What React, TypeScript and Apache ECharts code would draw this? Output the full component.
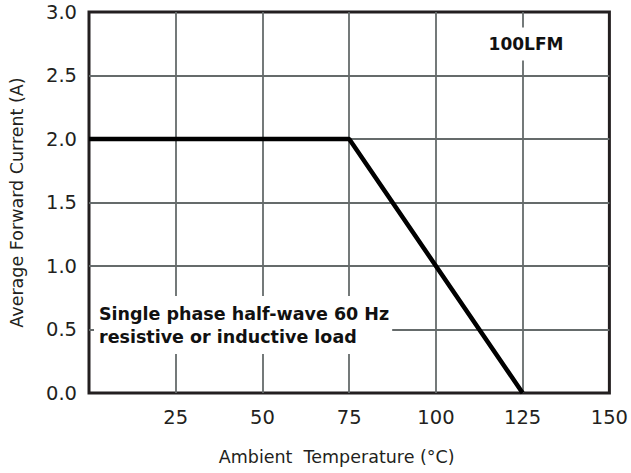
import React, { useEffect, useRef } from 'react';
import * as echarts from 'echarts';

// Derating curve data
const temperatureC = [0, 75, 125];
const currentA = [2.0, 2.0, 0.0];

// Axis ranges / ticks
const xMin = 0;
const xMax = 150;
const xStep = 25;
const yMin = 0;
const yMax = 3;
const yStep = 0.5;

const xTitle = 'Ambient  Temperature (°C)';
const yTitle = 'Average Forward Current (A)';
const noteTopRight = '100LFM';
const noteLoad = ['Single phase half-wave 60 Hz', 'resistive or inductive load'];

const FONT = '"DejaVu Sans", "Liberation Sans", sans-serif';

export default function App() {
  const ref = useRef<HTMLDivElement>(null);
  useEffect(() => {
    if (!ref.current) return;
    const chart = echarts.init(ref.current, undefined, { renderer: 'svg' });
    const points = temperatureC.map((t, i) => [t, currentA[i]]);
    chart.setOption({
      animation: false,
      backgroundColor: '#ffffff',
      grid: {
        left: 86,
        right: 17,
        top: 12,
        bottom: 80,
        show: true,
        borderColor: '#231f20',
        borderWidth: 3,
        backgroundColor: 'transparent',
      },
      xAxis: {
        type: 'value',
        min: xMin,
        max: xMax,
        interval: xStep,
        name: xTitle,
        nameLocation: 'middle',
        nameGap: 55,
        nameTextStyle: {
          fontFamily: FONT,
          fontSize: 17.5,
          color: '#231f20',
          padding: [0, 25, 0, 0],
        },
        axisLine: { show: false },
        axisTick: { show: false },
        axisLabel: {
          showMinLabel: false,
          margin: 14,
          fontFamily: FONT,
          fontSize: 19.5,
          color: '#231f20',
        },
        splitLine: {
          show: true,
          showMinLine: false,
          showMaxLine: false,
          lineStyle: { color: '#656b6b', width: 1.8 },
        },
      },
      yAxis: {
        type: 'value',
        min: yMin,
        max: yMax,
        interval: yStep,
        name: yTitle,
        nameLocation: 'middle',
        nameGap: 63,
        nameTextStyle: {
          fontFamily: FONT,
          fontSize: 17.5,
          color: '#231f20',
        },
        axisLine: { show: false },
        axisTick: { show: false },
        axisLabel: {
          margin: 12,
          fontFamily: FONT,
          fontSize: 19.5,
          color: '#231f20',
          formatter: (v: number) => v.toFixed(1),
        },
        splitLine: {
          show: true,
          showMinLine: false,
          showMaxLine: false,
          lineStyle: { color: '#656b6b', width: 1.8 },
        },
      },
      series: [
        {
          type: 'line',
          data: points,
          symbol: 'none',
          lineStyle: { color: '#000000', width: 4.5 },
          z: 3,
        },
      ],
      graphic: [
        {
          type: 'text',
          z: 100,
          x: 526,
          y: 44,
          style: {
            text: noteTopRight,
            align: 'center',
            verticalAlign: 'middle',
            fontFamily: FONT,
            fontWeight: 'bold',
            fontSize: 17,
            fill: '#111111',
            backgroundColor: '#ffffff',
            padding: [8, 8, 8, 8],
          },
        },
        {
          type: 'text',
          z: 100,
          x: 94,
          y: 296,
          style: {
            text: noteLoad.join('\n'),
            align: 'left',
            verticalAlign: 'top',
            fontFamily: FONT,
            fontWeight: 'bold',
            fontSize: 17.5,
            lineHeight: 23,
            fill: '#111111',
            backgroundColor: '#ffffff',
            padding: [6, 3, 6, 5],
          },
        },
      ],
    });
    return () => chart.dispose();
  }, []);
  return (
    <div
      ref={ref}
      style={{ position: 'fixed', left: 0, top: 0, width: 631, height: 473 }}
    />
  );
}
